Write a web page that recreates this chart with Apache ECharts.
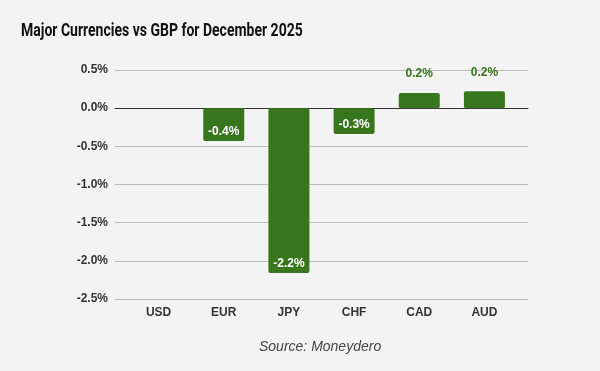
<!DOCTYPE html>
<html><head><meta charset="utf-8">
<script src="https://cdn.jsdelivr.net/npm/echarts@6/dist/echarts.min.js"></script>
<style>html,body{margin:0;padding:0;background:#f3f3f3;}#c{width:600px;height:371px;}</style>
</head><body><div id="c"></div>
<script>
const categories = ['USD','EUR','JPY','CHF','CAD','AUD'];
const changes = [0, -0.43, -2.16, -0.34, 0.20, 0.22];
const yTicks = {min: -2.5, max: 0.5, step: 0.5};
const titleText = 'Major Currencies vs GBP for December 2025';
const sourceText = 'Source: Moneydero';

const green = '#38761d';
const chart = echarts.init(document.getElementById('c'));
const data = changes.map(v => {
  const neg = v < 0;
  return {
    value: v,
    label: {
      show: v !== 0,
      position: neg ? 'insideBottom' : 'top',
      distance: neg ? 3 : 13,
      color: neg ? '#ffffff' : green
    }
  };
});
const yBase = {type: 'value', min: yTicks.min, max: yTicks.max, interval: yTicks.step};
chart.setOption({
  backgroundColor: '#f3f3f3',
  animation: false,
  graphic: [{
    type: 'text', left: 21, top: 23, scaleX: 0.8,
    style: {text: titleText, font: 'bold 17.5px Roboto', fill: '#111'}
  }],
  title: [{
    text: sourceText, left: 259, top: 340, padding: 0,
    textStyle: {fontFamily: 'Liberation Sans', fontStyle: 'italic', fontWeight: 'normal', fontSize: 14, color: '#444'}
  }],
  grid: [
    {left: 115, right: 72, top: 70, bottom: 72},
    {left: 126, right: 83, top: 70, bottom: 72}
  ],
  xAxis: [{
    gridIndex: 0, type: 'value', min: 0, max: 1,
    axisLine: {show: true, onZero: true, lineStyle: {color: '#333', width: 1}},
    axisTick: {show: false}, axisLabel: {show: false}, splitLine: {show: false}
  }, {
    gridIndex: 1, type: 'category', data: categories,
    axisLine: {show: false},
    axisTick: {show: false},
    axisLabel: {
      fontFamily: 'Liberation Sans', fontWeight: 'bold', fontSize: 12, color: '#333', margin: 8
    },
    position: 'bottom'
  }],
  yAxis: [Object.assign({}, yBase, {
    gridIndex: 0,
    axisLine: {show: false}, axisTick: {show: false},
    splitLine: {lineStyle: {color: '#bbbbbb', width: 1}},
    axisLabel: {
      fontFamily: 'Liberation Sans', fontWeight: 'bold', fontSize: 12, color: '#333', margin: 7,
      formatter: v => v.toFixed(1) + '%'
    }
  }), Object.assign({}, yBase, {
    gridIndex: 1, show: false, splitLine: {show: false}
  })],
  series: [{
    type: 'bar', xAxisIndex: 1, yAxisIndex: 1, data: data, barWidth: 41,
    z: 1,
    itemStyle: {color: green, borderRadius: 2},
    label: {
      fontFamily: 'Liberation Sans', fontWeight: 'bold', fontSize: 12,
      formatter: p => p.value.toFixed(1) + '%'
    }
  }]
});
</script></body></html>
